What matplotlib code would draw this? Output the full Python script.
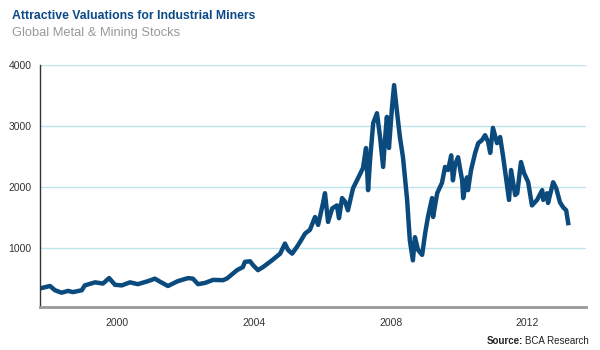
import matplotlib
matplotlib.use('Agg')
import matplotlib.pyplot as plt

plt.rcParams['font.family'] = ['Liberation Sans Narrow', 'Liberation Sans', 'DejaVu Sans']

# Global Metal & Mining stocks index (decimal years)
years = [1997.75, 1998.04, 1998.19, 1998.38, 1998.57, 1998.71, 1998.97, 1999.06,
         1999.36, 1999.59, 1999.77, 1999.94, 2000.14, 2000.38, 2000.61, 2000.91,
         2001.11, 2001.26, 2001.49, 2001.78, 2002.08, 2002.22, 2002.37, 2002.57,
         2002.81, 2003.10, 2003.22, 2003.51, 2003.68, 2003.74, 2003.89, 2003.98,
         2004.12, 2004.27, 2004.53, 2004.77, 2004.91, 2005.00, 2005.12, 2005.26,
         2005.35, 2005.50, 2005.64, 2005.79, 2005.88, 2006.02, 2006.08, 2006.17,
         2006.29, 2006.43, 2006.49, 2006.58, 2006.67, 2006.75, 2006.90, 2007.05,
         2007.19, 2007.28, 2007.34, 2007.40, 2007.49, 2007.60, 2007.69, 2007.78,
         2007.84, 2007.89, 2007.95, 2008.04, 2008.10, 2008.19, 2008.27, 2008.36,
         2008.48, 2008.56, 2008.65, 2008.71, 2008.80, 2008.92, 2009.01, 2009.09,
         2009.21, 2009.24, 2009.36, 2009.50, 2009.59, 2009.68, 2009.77, 2009.82,
         2009.88, 2009.97, 2010.09, 2010.12, 2010.23, 2010.26, 2010.35, 2010.47,
         2010.56, 2010.67, 2010.76, 2010.85, 2010.91, 2010.99, 2011.11, 2011.20,
         2011.29, 2011.37, 2011.46, 2011.52, 2011.64, 2011.70, 2011.81, 2011.90,
         2012.02, 2012.13, 2012.28, 2012.43, 2012.46, 2012.57, 2012.60, 2012.75,
         2012.84, 2012.95, 2013.04, 2013.13, 2013.19]
values = [340, 380, 310, 270, 300, 280, 310, 390,
          440, 420, 510, 400, 390, 440, 410, 460,
          500, 450, 380, 460, 510, 500, 410, 430,
          480, 475, 505, 640, 690, 775, 785, 720,
          640, 690, 800, 910, 1075, 970, 910, 1020,
          1100, 1240, 1300, 1510, 1380, 1730, 1900, 1430,
          1650, 1700, 1490, 1820, 1760, 1620, 1980, 2150,
          2310, 2640, 1950, 2460, 3050, 3210, 2820, 2330,
          2820, 3150, 2640, 3310, 3670, 3210, 2820, 2490,
          1800, 1130, 800, 1180, 970, 890, 1250, 1510,
          1820, 1510, 1900, 2070, 2330, 2280, 2520, 2110,
          2360, 2490, 2110, 1820, 2160, 1950, 2280, 2560,
          2720, 2770, 2850, 2740, 2560, 2970, 2720, 2820,
          2490, 2160, 1790, 2280, 1870, 1900, 2410, 2230,
          2080, 1700, 1790, 1950, 1790, 1900, 1740, 2080,
          1980, 1750, 1670, 1620, 1410]

xticks = [2000, 2004, 2008, 2012]
yticks = [1000, 2000, 3000, 4000]

fig = plt.figure(figsize=(6, 3.5), dpi=100)
ax = fig.add_axes([40/600, 1 - 307/350, 546/600, 242/350])

ax.plot(years, values, color='#0b4a7d', linewidth=3.2, solid_joinstyle='round')

ax.set_xlim(1997.75, 2013.71)
ax.set_ylim(36, 4000)
ax.set_xticks(xticks)
ax.set_xticklabels([str(t) for t in xticks])
ax.set_yticks(yticks)
ax.set_yticklabels([str(t) for t in yticks])
ax.tick_params(axis='both', length=0, labelsize=7.5, colors='#333333')
ax.tick_params(axis='x', pad=8)
ax.tick_params(axis='y', pad=6)

ax.grid(axis='y', color='#bfe4ec', linewidth=1)
ax.set_axisbelow(True)
for s in ['top', 'right']:
    ax.spines[s].set_visible(False)
ax.spines['left'].set_color('#333333')
ax.spines['left'].set_linewidth(1)
ax.spines['bottom'].set_color('#999999')
ax.spines['bottom'].set_linewidth(2)

fig.text(12/600, 1 - 16/350, 'Attractive Valuations for Industrial Miners',
         fontsize=8.8, fontweight='bold', color='#0b4a86', va='center', ha='left')
fig.text(12/600, 1 - 33/350, 'Global Metal & Mining Stocks',
         fontsize=9.3, color='#999999', va='center', ha='left')

src = fig.text(589/600, 1 - 341/350, 'BCA Research', fontsize=7,
               color='#222222', ha='right', va='center')
fig.canvas.draw()
bb = src.get_window_extent()
fig.text(bb.x0 / 600 - 0.004, 1 - 341/350, 'Source:', fontsize=7, fontweight='bold',
         color='#222222', ha='right', va='center')

fig.savefig('out.png', dpi=100)
